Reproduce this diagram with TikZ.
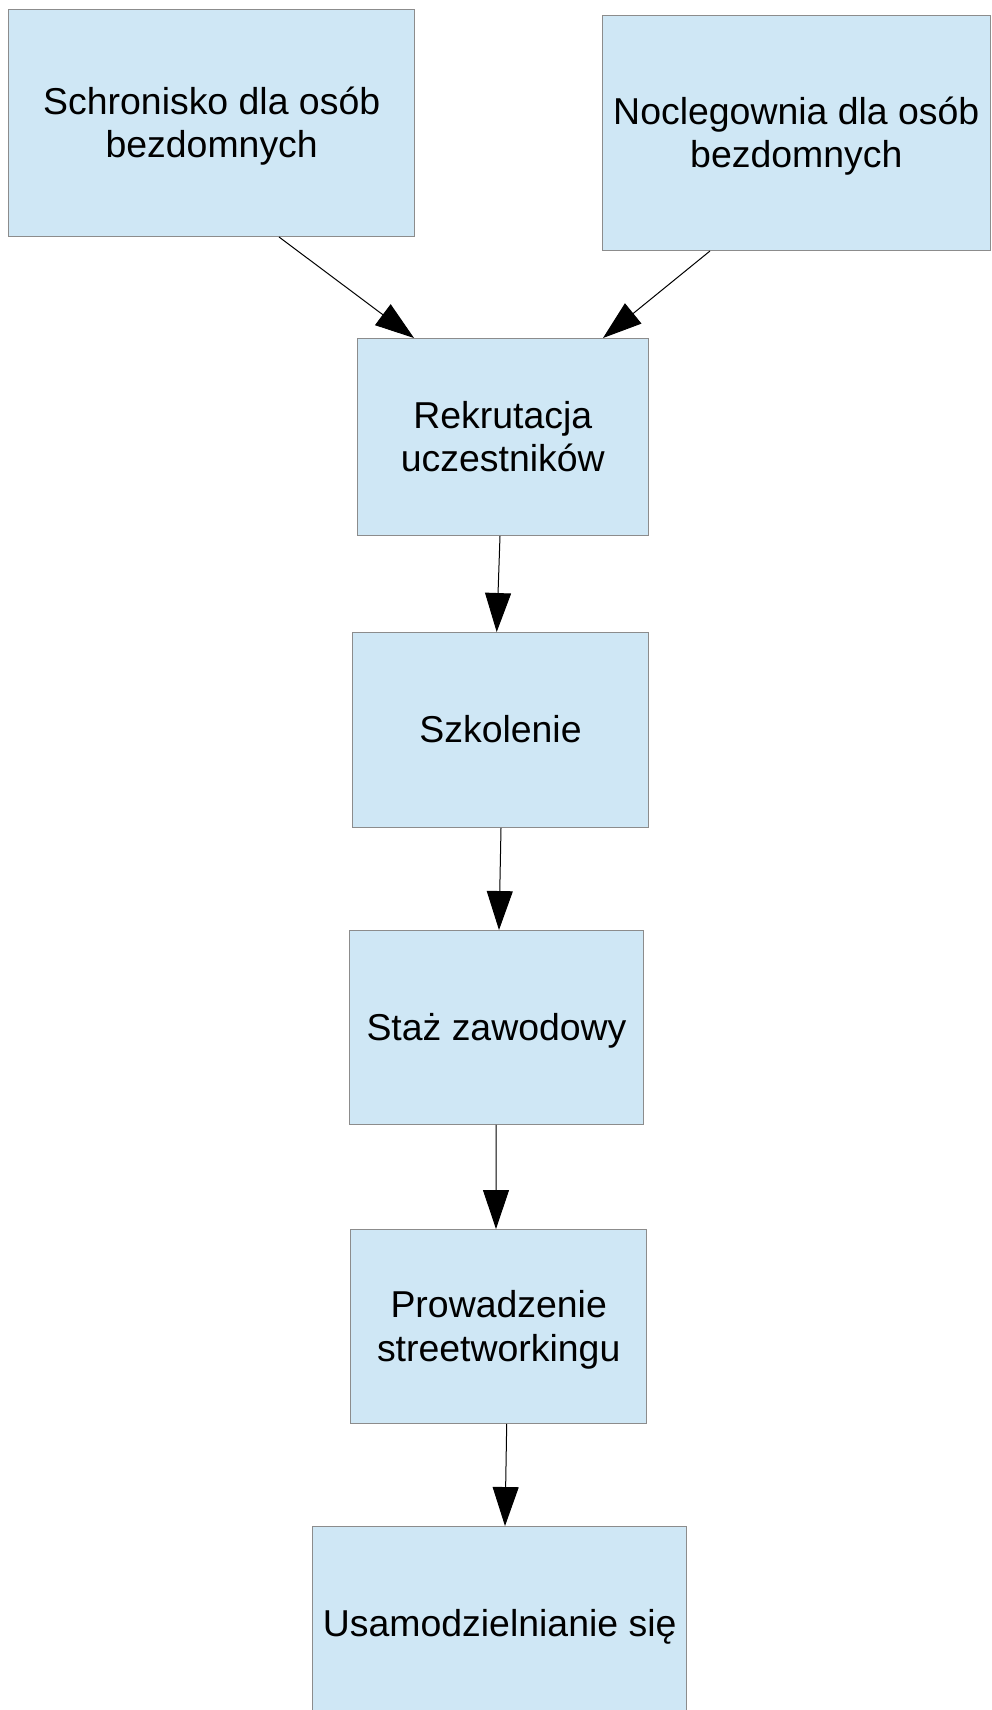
\documentclass[tikz,border=0pt]{standalone}
\usepackage{fontspec}
\setmainfont{Liberation Sans}
\usetikzlibrary{arrows.meta, positioning}
\definecolor{cblue}{HTML}{CFE7F5}
\definecolor{cgrey}{HTML}{8C8C8C}
\newcommand{\lstrut}{\rule[-0.212em]{0pt}{1.117em}}
\tikzset{
  every picture/.style={line width=0.02cm},
  box/.style={draw=cgrey, fill=cblue, align=center, inner sep=0pt, outer sep=0pt, font=\fontsize{21.3pt}{24.5pt}\selectfont},
  arrow/.style={-{Triangle[length=0.78cm, width=0.52cm]}, draw=black, line width=0.02cm},
}

\begin{document}
\begin{tikzpicture}[x=0.02cm, y=-0.02cm]
  \clip (0,0) rectangle (991,1710);
  \node[box, minimum width=8.13cm, minimum height=4.56cm] (schronisko) at (211.7,123) {Schronisko dla osób\lstrut\\bezdomnych\lstrut};
  \node[box, minimum width=7.75cm, minimum height=4.72cm] (noclegownia) at (796.3,133) {Noclegownia dla osób\lstrut\\bezdomnych\lstrut};
  \node[box, minimum width=5.83cm, minimum height=3.96cm] (rekrutacja) at (502.8,437) {Rekrutacja\lstrut\\uczestników\lstrut};
  \node[box, minimum width=5.94cm, minimum height=3.92cm] (szkolenie) at (500.5,730) {Szkolenie\lstrut};
  \node[box, minimum width=5.90cm, minimum height=3.90cm] (staz) at (496.5,1027.5) {Staż zawodowy\lstrut};
  \node[box, minimum width=5.92cm, minimum height=3.90cm] (streetworking) at (498.7,1326.5) {Prowadzenie\lstrut\\streetworkingu\lstrut};
  \node[box, minimum width=7.48cm, minimum height=3.92cm] (usamodzielnianie) at (499.7,1624) {Usamodzielnianie się\lstrut};
  \draw[arrow] ([xshift=1.346cm]schronisko.south) -- ([xshift=-1.776cm]rekrutacja.north);
  \draw[arrow] ([xshift=-1.726cm]noclegownia.south) -- ([xshift=2.004cm]rekrutacja.north);
  \draw[arrow] ([xshift=-0.056cm]rekrutacja.south) -- ([xshift=-0.076cm]szkolenie.north);
  \draw[arrow] ([xshift=0.01cm]szkolenie.south) -- ([xshift=0.05cm]staz.north);
  \draw[arrow] ([xshift=-0.01cm]staz.south) -- ([xshift=-0.054cm]streetworking.north);
  \draw[arrow] ([xshift=0.16cm]streetworking.south) -- ([xshift=0.106cm]usamodzielnianie.north);
\end{tikzpicture}
\end{document}
